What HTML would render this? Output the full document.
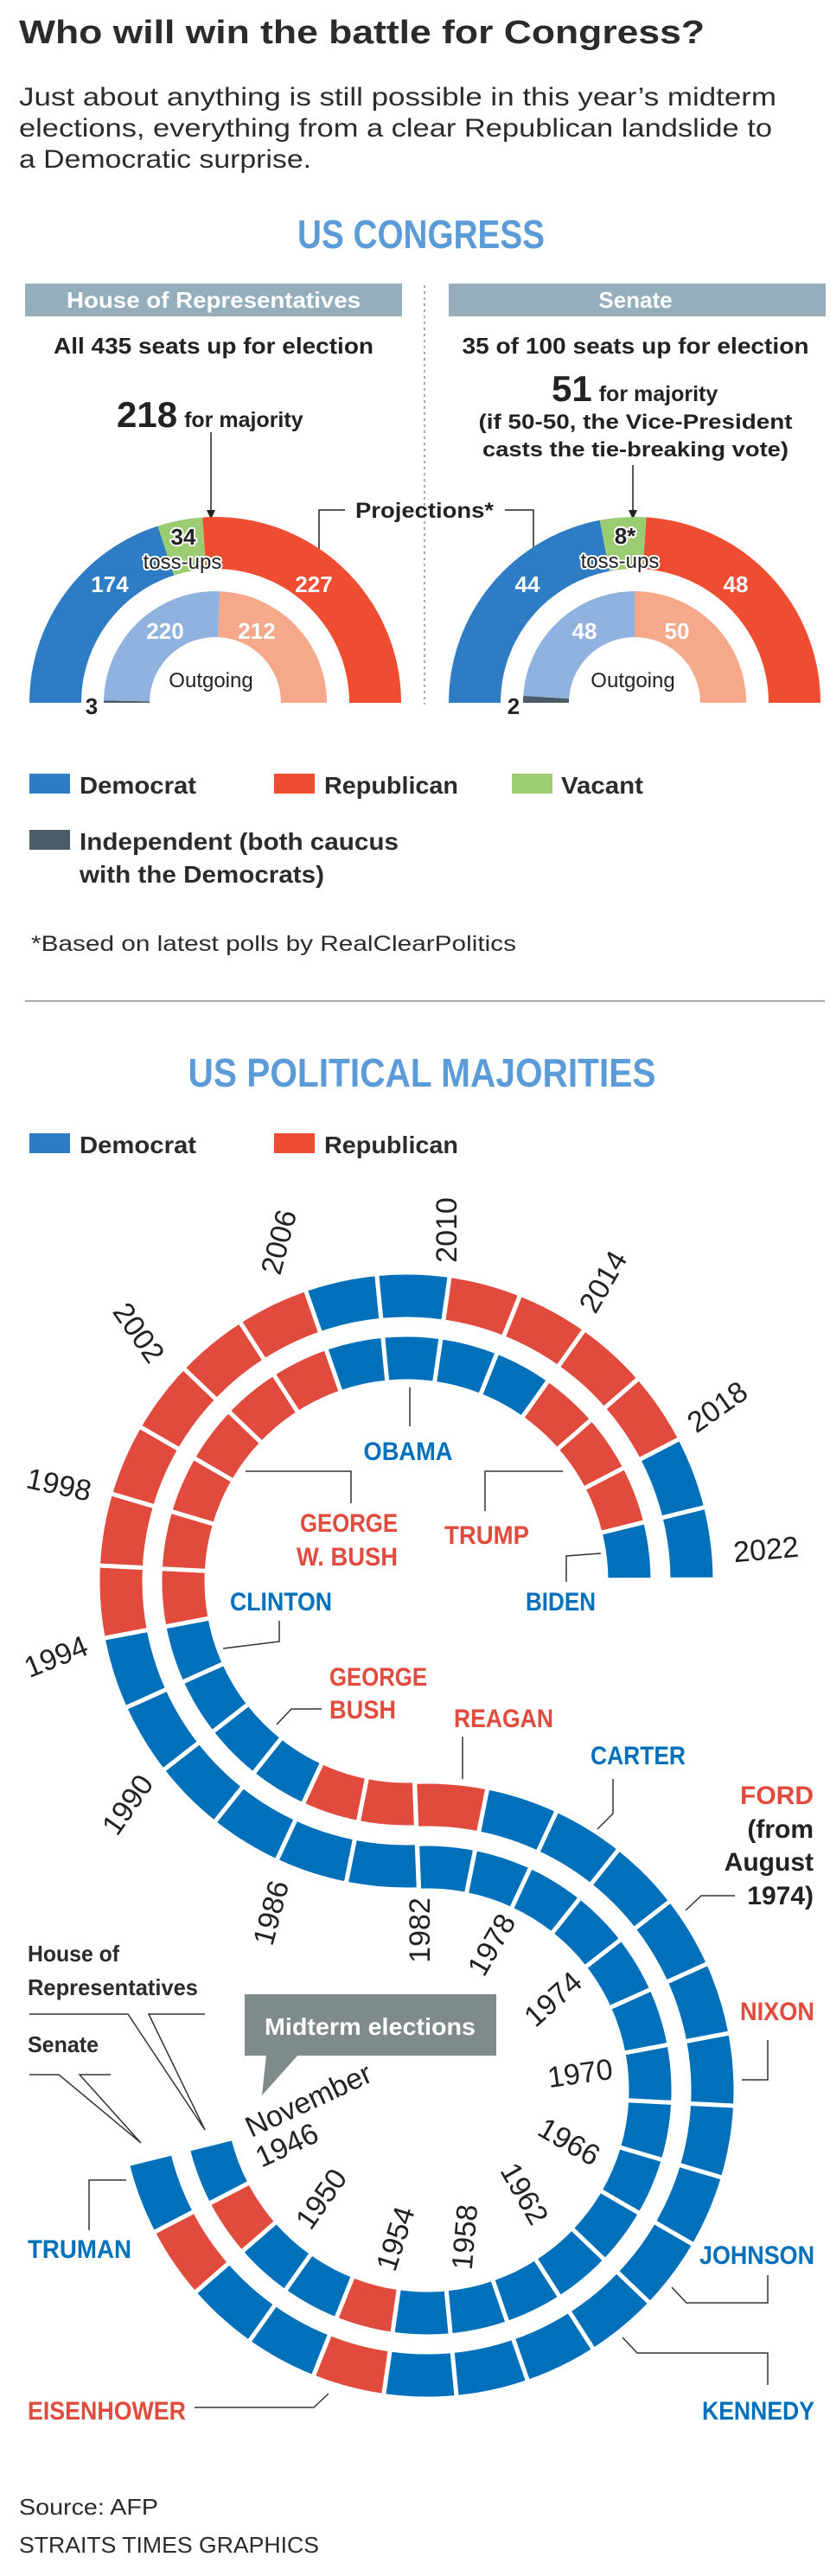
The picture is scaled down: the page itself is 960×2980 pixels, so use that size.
<!DOCTYPE html>
<html><head><meta charset="utf-8"><style>
html,body{margin:0;padding:0;background:#fff}
svg{display:block}
text{font-family:"Liberation Sans",sans-serif}
.b{font-weight:bold}
.halo{paint-order:stroke;stroke:#fff;stroke-width:4px;stroke-linejoin:round}
</style></head><body>
<svg id="chart" xmlns="http://www.w3.org/2000/svg" width="960" height="2980" viewBox="0 0 960 2980">
<rect width="960" height="2980" fill="#fff"/>
<text x="22" y="50" class="b" font-size="38" fill="#2b2b2b" textLength="793" lengthAdjust="spacingAndGlyphs">Who will win the battle for Congress?</text>
<g font-size="30" fill="#2b2b2b">
<text x="22" y="122" textLength="876" lengthAdjust="spacingAndGlyphs">Just about anything is still possible in this year’s midterm</text>
<text x="22" y="158" textLength="871" lengthAdjust="spacingAndGlyphs">elections, everything from a clear Republican landslide to</text>
<text x="22" y="194" textLength="338" lengthAdjust="spacingAndGlyphs">a Democratic surprise.</text>
</g>
<text x="487" y="287" text-anchor="middle" class="b" font-size="46" fill="#5b9bd8" textLength="286" lengthAdjust="spacingAndGlyphs">US CONGRESS</text>
<rect x="29" y="328" width="436" height="38" fill="#94aebb"/>
<text x="247" y="356" text-anchor="middle" class="b" font-size="26" fill="#fff" textLength="340" lengthAdjust="spacingAndGlyphs">House of Representatives</text>
<rect x="519" y="328" width="436" height="38" fill="#94aebb"/>
<text x="735" y="356" text-anchor="middle" class="b" font-size="26" fill="#fff">Senate</text>
<line x1="491" y1="330" x2="491" y2="815" stroke="#aaa" stroke-width="2" stroke-dasharray="3,4"/>
<text x="247" y="409" text-anchor="middle" class="b" font-size="26" fill="#222" textLength="370" lengthAdjust="spacingAndGlyphs">All 435 seats up for election</text>
<text x="735" y="409" text-anchor="middle" class="b" font-size="26" fill="#222" textLength="401" lengthAdjust="spacingAndGlyphs">35 of 100 seats up for election</text>
<text x="135" y="494" class="b" font-size="42" fill="#222">218<tspan font-size="25" dx="8">for majority</tspan></text>
<line x1="244" y1="500" x2="244" y2="595" stroke="#222" stroke-width="1.5"/>
<polygon points="239,590 249,590 244,601" fill="#222"/>
<text x="638" y="464" class="b" font-size="42" fill="#222">51<tspan font-size="25" dx="8">for majority</tspan></text>
<text x="735" y="496" text-anchor="middle" class="b" font-size="24" fill="#222" textLength="363" lengthAdjust="spacingAndGlyphs">(if 50-50, the Vice-President</text>
<text x="735" y="528" text-anchor="middle" class="b" font-size="24" fill="#222" textLength="354" lengthAdjust="spacingAndGlyphs">casts the tie-breaking vote)</text>
<line x1="732" y1="538" x2="732" y2="595" stroke="#222" stroke-width="1.5"/>
<polygon points="727,590 737,590 732,601" fill="#222"/>
<text x="491" y="599" text-anchor="middle" class="b" font-size="25" fill="#222" textLength="160" lengthAdjust="spacingAndGlyphs">Projections*</text>
<polyline points="369,638 369,590 399,590" fill="none" stroke="#222" stroke-width="1.5"/>
<polyline points="584,590 617,590 617,635" fill="none" stroke="#222" stroke-width="1.5"/>
<g id="congress"></g>
<g>
<rect x="34" y="895" width="47" height="23" fill="#2e7cc4"/><text x="92" y="918" class="b" font-size="28" fill="#2b2b2b" textLength="135" lengthAdjust="spacingAndGlyphs">Democrat</text>
<rect x="317" y="895" width="47" height="23" fill="#ef4d31"/><text x="375" y="918" class="b" font-size="28" fill="#2b2b2b" textLength="155" lengthAdjust="spacingAndGlyphs">Republican</text>
<rect x="592" y="895" width="47" height="23" fill="#9ccc72"/><text x="649" y="918" class="b" font-size="28" fill="#2b2b2b" textLength="95" lengthAdjust="spacingAndGlyphs">Vacant</text>
<rect x="34" y="960" width="47" height="23" fill="#4b5b67"/><text x="92" y="983" class="b" font-size="28" fill="#2b2b2b" textLength="369" lengthAdjust="spacingAndGlyphs">Independent (both caucus</text>
<text x="92" y="1021" class="b" font-size="28" fill="#2b2b2b" textLength="283" lengthAdjust="spacingAndGlyphs">with the Democrats)</text>
</g>
<text x="36" y="1100" font-size="25" fill="#2b2b2b" textLength="561" lengthAdjust="spacingAndGlyphs">*Based on latest polls by RealClearPolitics</text>
<line x1="29" y1="1158" x2="954" y2="1158" stroke="#aaa" stroke-width="2"/>
<text x="488" y="1257" text-anchor="middle" class="b" font-size="46" fill="#5b9bd8" textLength="541" lengthAdjust="spacingAndGlyphs">US POLITICAL MAJORITIES</text>
<g>
<rect x="34" y="1311" width="47" height="23" fill="#2e7cc4"/><text x="92" y="1334" class="b" font-size="28" fill="#2b2b2b" textLength="135" lengthAdjust="spacingAndGlyphs">Democrat</text>
<rect x="317" y="1311" width="47" height="23" fill="#ef4d31"/><text x="375" y="1334" class="b" font-size="28" fill="#2b2b2b" textLength="155" lengthAdjust="spacingAndGlyphs">Republican</text>
</g>
<g id="scurve"></g>
<g id="yearlabels" font-size="34" fill="#222"></g>
<g class="b" font-size="30">
<text x="472" y="1689" text-anchor="middle" fill="#0070bb" textLength="103" lengthAdjust="spacingAndGlyphs">OBAMA</text>
<line x1="474" y1="1605" x2="474" y2="1650" stroke="#333" stroke-width="1.5"/>
<text x="460" y="1772" text-anchor="end" fill="#e04b3d" textLength="113" lengthAdjust="spacingAndGlyphs">GEORGE</text>
<text x="460" y="1811" text-anchor="end" fill="#e04b3d" textLength="117" lengthAdjust="spacingAndGlyphs">W. BUSH</text>
<polyline points="284,1702 406,1702 406,1739" fill="none" stroke="#333" stroke-width="1.5"/>
<text x="514" y="1786" fill="#e04b3d" textLength="98" lengthAdjust="spacingAndGlyphs">TRUMP</text>
<polyline points="651,1702 561,1702 561,1748" fill="none" stroke="#333" stroke-width="1.5"/>
<text x="608" y="1863" fill="#0070bb" textLength="81" lengthAdjust="spacingAndGlyphs">BIDEN</text>
<polyline points="695,1797 655,1800 655,1830" fill="none" stroke="#333" stroke-width="1.5"/>
<text x="266" y="1863" fill="#0070bb" textLength="118" lengthAdjust="spacingAndGlyphs">CLINTON</text>
<polyline points="258,1907 323,1899 323,1875" fill="none" stroke="#333" stroke-width="1.5"/>
<text x="381" y="1950" fill="#e04b3d" textLength="113" lengthAdjust="spacingAndGlyphs">GEORGE</text>
<text x="381" y="1988" fill="#e04b3d" textLength="77" lengthAdjust="spacingAndGlyphs">BUSH</text>
<polyline points="320,1995 337,1977 372,1977" fill="none" stroke="#333" stroke-width="1.5"/>
<text x="525" y="1998" fill="#e04b3d" textLength="115" lengthAdjust="spacingAndGlyphs">REAGAN</text>
<line x1="535" y1="2009" x2="535" y2="2058" stroke="#333" stroke-width="1.5"/>
<text x="683" y="2041" fill="#0070bb" textLength="110" lengthAdjust="spacingAndGlyphs">CARTER</text>
<polyline points="709,2058 709,2098 691,2116" fill="none" stroke="#333" stroke-width="1.5"/>
<text x="941" y="2087" text-anchor="end" fill="#e04b3d">FORD</text>
<text x="941" y="2126" text-anchor="end" fill="#222">(from</text>
<text x="941" y="2164" text-anchor="end" fill="#222">August</text>
<text x="941" y="2203" text-anchor="end" fill="#222">1974)</text>
<polyline points="793,2210 811,2193 850,2193" fill="none" stroke="#333" stroke-width="1.5"/>
<text x="942" y="2337" text-anchor="end" fill="#e04b3d" textLength="86" lengthAdjust="spacingAndGlyphs">NIXON</text>
<polyline points="888,2360 888,2406 858,2406" fill="none" stroke="#333" stroke-width="1.5"/>
<text x="942" y="2619" text-anchor="end" fill="#0070bb" textLength="133" lengthAdjust="spacingAndGlyphs">JOHNSON</text>
<polyline points="888,2632 888,2664 794,2664 777,2646" fill="none" stroke="#333" stroke-width="1.5"/>
<text x="942" y="2799" text-anchor="end" fill="#0070bb" textLength="130" lengthAdjust="spacingAndGlyphs">KENNEDY</text>
<polyline points="888,2759 888,2722 737,2722 720,2704" fill="none" stroke="#333" stroke-width="1.5"/>
<text x="32" y="2612" fill="#0070bb" textLength="120" lengthAdjust="spacingAndGlyphs">TRUMAN</text>
<polyline points="103,2580 103,2522 146,2522" fill="none" stroke="#333" stroke-width="1.5"/>
<text x="32" y="2799" fill="#e04b3d" textLength="183" lengthAdjust="spacingAndGlyphs">EISENHOWER</text>
<polyline points="225,2785 363,2785 380,2769" fill="none" stroke="#333" stroke-width="1.5"/>
</g>
<g class="b" font-size="26" fill="#2b2b2b">
<text x="32" y="2269" textLength="106" lengthAdjust="spacingAndGlyphs">House of</text>
<text x="32" y="2308" textLength="197" lengthAdjust="spacingAndGlyphs">Representatives</text>
<polyline points="34,2330 148,2330 237,2464 172,2330 237,2330" fill="none" stroke="#333" stroke-width="1.5"/>
<text x="32" y="2374" textLength="82" lengthAdjust="spacingAndGlyphs">Senate</text>
<polyline points="34,2400 68,2400 163,2479 92,2400 128,2400" fill="none" stroke="#333" stroke-width="1.5"/>
</g>
<g>
<rect x="283" y="2307" width="291" height="71" fill="#7f8a8a"/>
<polygon points="308,2377 345,2377 303,2424" fill="#7f8a8a"/>
<text x="428" y="2354" text-anchor="middle" class="b" font-size="28" fill="#fff" textLength="244" lengthAdjust="spacingAndGlyphs">Midterm elections</text>
</g>
<text x="22" y="2909" font-size="26" fill="#2b2b2b" textLength="161" lengthAdjust="spacingAndGlyphs">Source: AFP</text>
<text x="22" y="2953" font-size="26" fill="#2b2b2b" textLength="347" lengthAdjust="spacingAndGlyphs">STRAITS TIMES GRAPHICS</text>
</svg>
<script>
// ---- US Congress data ----
const houseProjLabels = ["Democrat","Toss-ups","Republican"];
const houseProj = [174, 34, 227];
const houseOutgoing = [3, 220, 212]; // Independent, Democrat, Republican
const senateProj = [44, 8, 48];
const senateOutgoing = [2, 48, 50];
// ---- Political majorities data ----
const years = [1944,1946,1948,1950,1952,1954,1956,1958,1960,1962,1964,1966,1968,1970,1972,1974,1976,1978,1980,1982,1984,1986,1988,1990,1992,1994,1996,1998,2000,2002,2004,2006,2008,2010,2012,2014,2016,2018,2020];
const houseParty = ["D","R","D","D","R","D","D","D","D","D","D","D","D","D","D","D","D","D","D","D","D","D","D","D","D","R","R","R","R","R","R","D","D","R","R","R","R","D","D"];
const senateParty = ["D","R","D","D","R","D","D","D","D","D","D","D","D","D","D","D","D","D","R","R","R","D","D","D","D","R","R","R","R","R","R","D","D","D","D","R","R","R","D"];
const yearTicks = [1946,1950,1954,1958,1962,1966,1970,1974,1978,1982,1986,1990,1994,1998,2002,2006,2010,2014,2018,2022];

const NS = "http://www.w3.org/2000/svg";
function rad(a){return a*Math.PI/180;}
function sector(cx,cy,r0,r1,a0,a1){
  const p=(r,a)=>[(cx+r*Math.cos(rad(a))).toFixed(2),(cy+r*Math.sin(rad(a))).toFixed(2)];
  const large=Math.abs(a1-a0)>180?1:0, sw=a1>a0?1:0;
  const A=p(r1,a0),B=p(r1,a1),C=p(r0,a1),D=p(r0,a0);
  return `M${A}A${r1},${r1} 0 ${large} ${sw} ${B}L${C}A${r0},${r0} 0 ${large} ${1-sw} ${D}Z`;
}
function mk(parent,tag,attrs){const e=document.createElementNS(NS,tag);for(const k in attrs)e.setAttribute(k,attrs[k]);parent.appendChild(e);return e;}

// Congress semicircles
const cg=document.getElementById('congress');
function semi(cx,cy,r0,r1,vals,cols,name){
  const tot=vals.reduce((a,b)=>a+b,0);let acc=0;
  vals.forEach((v,i)=>{
    const a0=180+180*acc/tot; acc+=v; const a1=180+180*acc/tot;
    const e=mk(cg,'path',{d:sector(cx,cy,r0,r1,a0,a1),fill:cols[i]});
    
    
  });
}
semi(249,813,155,215,houseProj,["#2e7cc4","#9ccc72","#ef4d31"],'house-projection');
semi(249,813,76,129,houseOutgoing,["#4b5b67","#8fb2de","#f5a88a"],'house-outgoing');
semi(734,813,155,215,senateProj,["#2e7cc4","#9ccc72","#ef4d31"],'senate-projection');
semi(734,813,76,129,senateOutgoing,["#4b5b67","#8fb2de","#f5a88a"],'senate-outgoing');
function lab(x,y,t,o){const e=mk(cg,'text',Object.assign({x:x,y:y,'text-anchor':'middle'},o||{}));e.textContent=t;
  
  return e;}
const W={fill:'#fff','font-size':26,'font-weight':'bold'};
const H={fill:'#222','font-size':26,'font-weight':'bold',class:'halo'};
lab(127,685,String(houseProj[0]),W);lab(363,685,String(houseProj[2]),W);
lab(212,630,String(houseProj[1]),H);lab(211,658,'toss-ups',Object.assign({},H,{'font-weight':'normal','font-size':24}));
lab(191,739,String(houseOutgoing[1]),W);lab(297,739,String(houseOutgoing[2]),W);
lab(244,795,'Outgoing',{fill:'#222','font-size':24});
lab(106,826,String(houseOutgoing[0]),{fill:'#222','font-size':26,'font-weight':'bold'});
lab(610,685,String(senateProj[0]),W);lab(851,685,String(senateProj[2]),W);
lab(723,629,senateProj[1]+'*',H);lab(717,657,'toss-ups',Object.assign({},H,{'font-weight':'normal','font-size':24}));
lab(676,739,String(senateOutgoing[1]),W);lab(783,739,String(senateOutgoing[2]),W);
lab(732,795,'Outgoing',{fill:'#222','font-size':24});
lab(594,826,String(senateOutgoing[0]),{fill:'#222','font-size':26,'font-weight':'bold'});

// S-curve
const sg=document.getElementById('scurve');
const CU=[470,1829], CL=[494,2418], STEP=13.6, JOIN_U=87.7;
const RIN=[231,285], ROUT=[303,357];
const nLower = years.indexOf(1982);
const colorOf=p=>p==="D"?"#0070bb":"#e04b3d";
function segAngles(i){
  if(i<nLower){const s=JOIN_U-180+STEP*(nLower-i); return {c:CL,a0:s,a1:s-STEP,lower:true};}
  const j=i-nLower; return {c:CU,a0:JOIN_U+STEP*j,a1:JOIN_U+STEP*(j+1),lower:false};
}
years.forEach((y,i)=>{
  const g=segAngles(i);
  const lo=Math.min(g.a0,g.a1),hi=Math.max(g.a0,g.a1);
  const senR=g.lower?ROUT:RIN, houR=g.lower?RIN:ROUT;
  const s=mk(sg,'path',{d:sector(g.c[0],g.c[1],senR[0],senR[1],lo,hi),fill:colorOf(senateParty[i]),stroke:'#fff','stroke-width':5});
  
  
  const h=mk(sg,'path',{d:sector(g.c[0],g.c[1],houR[0],houR[1],lo,hi),fill:colorOf(houseParty[i]),stroke:'#fff','stroke-width':5});
  
  
});

// Year labels (annotation positions)
const tickPos={1946:[332,2482,-25],1950:[372,2544,-55],1954:[458,2590,-72],1958:[538,2588,-85],1962:[606,2538,60],1966:[658,2478,30],1970:[671,2399,-8],1974:[640,2313,-42],1978:[569,2250,-60],1982:[486,2233,-90],1986:[314,2213,-75],1990:[148,2088,-55],1994:[65,1917,-22],1998:[68,1718,12],2002:[160,1542,55],2006:[323,1437,-75],2010:[517,1423,-90],2014:[698,1483,-60],2018:[830,1628,-35],2022:[886,1793,-5]};
const yl=document.getElementById('yearlabels');
yearTicks.forEach(y=>{
  const p=tickPos[y];
  const t=mk(yl,'text',{x:0,y:11,'text-anchor':'middle',transform:`translate(${p[0]},${p[1]}) rotate(${p[2]})`});
  t.textContent=String(y);
  
  
});
const nov=mk(yl,'text',{x:0,y:11,'text-anchor':'middle',transform:'translate(357,2430) rotate(-25)'});
nov.textContent='November';


</script>
</body></html>
